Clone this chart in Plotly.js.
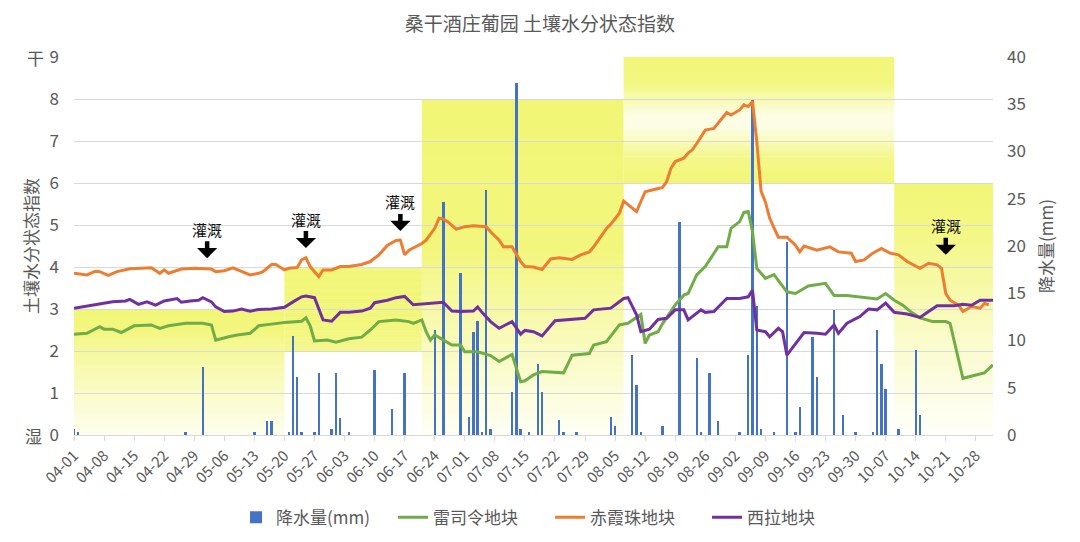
<!DOCTYPE html>
<html><head><meta charset="utf-8">
<script src="https://cdn.plot.ly/plotly-3.0.1.min.js"></script>
<style>html,body{margin:0;padding:0;background:#fff}#chart{width:1080px;height:542px}</style>
</head><body><div id="chart"></div>
<script>
const YEAR = '2021-';
const chartTitle = '桑干酒庄葡园 土壤水分状态指数';
const seriesNames = ['降水量(mm)', '雷司令地块', '赤霞珠地块', '西拉地块'];

// 降水量 (mm)
const rainDates = ['04-01','04-02','04-27','05-01','05-13','05-16','05-17','05-21','05-22','05-23','05-24','05-27','05-28','05-31','06-01','06-02','06-04','06-10','06-14','06-17','06-24','06-26','06-30','07-02','07-03','07-04','07-05','07-06','07-07','07-12','07-13','07-14','07-16','07-18','07-19','07-23','07-24','07-27','08-04','08-05','08-09','08-10','08-11','08-16','08-20','08-24','08-25','08-27','08-29','09-03','09-05','09-06','09-07','09-08','09-11','09-14','09-16','09-17','09-20','09-21','09-25','09-27','09-30','10-04','10-05','10-06','10-07','10-10','10-14','10-15'];
const rainMm = [0.6,0.3,0.3,7.2,0.3,1.5,1.5,0.3,10.5,6.1,0.3,0.3,6.6,0.6,6.6,1.8,0.3,6.9,2.8,6.6,11.1,24.7,17.1,1.9,10.9,12.1,0.3,25.9,0.6,4.6,37.2,0.6,0.3,7.5,4.5,1.6,0.3,0.3,1.9,1.0,8.5,5.3,0.3,1.0,22.5,8.1,0.3,6.6,1.5,0.3,8.5,35.4,13.6,0.6,0.3,20.4,0.3,3.0,10.4,6.1,13.2,2.1,0.3,0.3,11.1,7.5,4.9,0.6,9.0,2.1];

// 雷司令地块
const rieslingDates = ['04-01','04-04','04-07','04-08','04-10','04-12','04-15','04-19','04-21','04-23','04-27','05-01','05-03','05-04','05-07','05-09','05-12','05-14','05-17','05-20','05-24','05-25','05-26','05-27','05-30','06-01','06-04','06-07','06-09','06-11','06-15','06-18','06-19','06-21','06-22','06-23','06-24','06-26','06-28','06-30','07-01','07-04','07-07','07-09','07-12','07-14','07-15','07-17','07-19','07-24','07-26','07-30','07-31','08-03','08-06','08-08','08-11','08-12','08-13','08-15','08-16','08-19','08-21','08-22','08-24','08-26','08-29','08-31','09-01','09-03','09-04','09-05','09-06','09-07','09-09','09-11','09-14','09-16','09-19','09-23','09-25','09-28','10-03','10-05','10-07','10-09','10-11','10-13','10-15','10-18','10-21','10-22','10-23','10-25','10-28','10-30','11-01'];
const rieslingIdx = [2.40,2.42,2.58,2.52,2.52,2.44,2.60,2.62,2.54,2.60,2.66,2.66,2.62,2.26,2.34,2.38,2.42,2.60,2.64,2.68,2.71,2.79,2.60,2.24,2.26,2.21,2.29,2.33,2.50,2.70,2.74,2.70,2.66,2.74,2.46,2.26,2.38,2.26,2.14,2.14,1.98,1.98,1.89,1.75,1.92,1.27,1.29,1.43,1.51,1.48,1.90,1.94,2.14,2.22,2.62,2.66,2.87,2.18,2.38,2.46,2.64,3.10,3.33,3.37,3.81,4.01,4.48,4.48,4.92,5.08,5.30,5.32,4.84,3.97,3.73,3.82,3.41,3.37,3.55,3.61,3.32,3.32,3.27,3.24,3.37,3.21,3.09,2.92,2.79,2.70,2.70,2.66,2.22,1.35,1.43,1.48,1.67];

// 赤霞珠地块
const cabernetDates = ['04-01','04-04','04-06','04-07','04-09','04-11','04-14','04-16','04-19','04-21','04-22','04-23','04-26','04-29','05-03','05-04','05-06','05-08','05-10','05-12','05-14','05-15','05-17','05-18','05-20','05-21','05-23','05-24','05-25','05-26','05-28','05-29','05-31','06-02','06-04','06-07','06-09','06-11','06-13','06-15','06-16','06-17','06-18','06-21','06-22','06-24','06-25','06-26','06-27','06-29','07-01','07-03','07-06','07-07','07-09','07-10','07-12','07-14','07-15','07-17','07-19','07-21','07-23','07-26','07-28','07-30','07-31','08-02','08-03','08-04','08-06','08-07','08-08','08-10','08-11','08-12','08-15','08-16','08-17','08-18','08-19','08-21','08-22','08-23','08-24','08-26','08-28','08-29','08-31','09-01','09-03','09-04','09-05','09-06','09-07','09-08','09-09','09-10','09-12','09-14','09-16','09-17','09-18','09-21','09-24','09-26','09-29','09-30','10-02','10-04','10-06','10-08','10-10','10-12','10-14','10-15','10-17','10-19','10-20','10-21','10-22','10-24','10-25','10-27','10-29','10-30','10-31'];
const cabernetIdx = [3.85,3.81,3.90,3.89,3.80,3.89,3.96,3.97,3.98,3.85,3.93,3.85,3.95,3.97,3.95,3.89,3.91,3.98,3.90,3.81,3.85,3.89,4.06,4.06,3.93,3.97,3.99,4.17,4.22,4.01,3.77,3.93,3.93,4.01,4.01,4.06,4.13,4.29,4.52,4.63,4.64,4.29,4.40,4.56,4.64,4.92,5.16,5.14,5.08,4.90,4.96,4.98,4.96,4.84,4.64,4.48,4.48,4.13,4.01,4.00,3.94,4.19,4.22,4.18,4.29,4.36,4.48,4.76,4.92,5.02,5.28,5.57,5.48,5.32,5.56,5.79,5.87,5.89,6.03,6.35,6.51,6.59,6.71,6.79,6.94,7.26,7.30,7.42,7.68,7.62,7.74,7.86,7.82,7.94,6.98,5.80,5.55,5.16,4.71,4.71,4.52,4.36,4.50,4.40,4.48,4.36,4.33,4.13,4.17,4.33,4.44,4.33,4.29,4.13,4.01,3.97,4.09,4.05,3.97,3.37,3.21,3.09,2.94,3.06,3.02,3.13,3.10];

// 西拉地块
const syrahDates = ['04-01','04-05','04-08','04-10','04-13','04-14','04-16','04-18','04-20','04-22','04-25','04-26','04-28','04-30','05-01','05-03','05-04','05-06','05-08','05-10','05-12','05-14','05-17','05-20','05-22','05-24','05-25','05-27','05-29','05-31','06-02','06-04','06-07','06-09','06-10','06-13','06-15','06-17','06-19','06-22','06-24','06-26','06-28','06-30','07-03','07-04','07-05','07-07','07-09','07-12','07-14','07-15','07-17','07-19','07-22','07-25','07-29','07-31','08-04','08-07','08-08','08-10','08-11','08-13','08-15','08-17','08-19','08-21','08-22','08-25','08-26','08-28','08-31','09-03','09-05','09-06','09-07','09-09','09-10','09-12','09-13','09-14','09-16','09-18','09-21','09-23','09-25','09-26','09-28','10-01','10-03','10-05','10-07','10-09','10-12','10-15','10-17','10-19','10-23','10-25','10-27','10-29','11-01'];
const syrahIdx = [3.02,3.09,3.13,3.17,3.19,3.23,3.11,3.17,3.09,3.19,3.25,3.16,3.19,3.21,3.27,3.17,3.05,2.94,2.95,3.00,2.95,2.99,3.00,3.04,3.17,3.29,3.31,3.27,2.74,2.71,2.92,2.92,2.95,3.02,3.15,3.21,3.27,3.30,3.10,3.12,3.14,3.16,2.95,2.94,2.95,3.05,2.92,2.70,2.54,2.70,2.40,2.49,2.46,2.36,2.72,2.75,2.78,2.98,3.02,3.25,3.27,2.86,2.46,2.52,2.75,2.78,2.98,2.98,2.74,2.98,2.92,2.94,3.25,3.25,3.29,3.45,2.50,2.46,2.34,2.54,2.46,1.90,2.18,2.44,2.42,2.40,2.62,2.42,2.66,2.82,3.00,2.98,3.14,2.92,2.88,2.80,2.94,3.08,3.08,3.11,3.09,3.21,3.21];

// 背景分区 (左轴指数范围)
const bandStart = ['04-01','05-20','06-21','08-07','10-09'];
const bandEnd   = ['05-20','06-21','08-07','10-09','11-01'];
const bandLow   = [0, 2, 0, 6, 0];
const bandHigh  = [3, 4, 8, 9, 6];

// 灌溉标注
const irrigationDates = ['05-02','05-25','06-16','10-21'];
const irrigationIdx = [4.21, 4.45, 4.86, 4.29];
const irrigationText = '灌溉';

const xRange = ['04-01', '11-01'];
const leftRange = [0, 9];
const rightRange = [0, 40];

// ---------- styling ----------
const CJK = '"Noto Sans CJK SC", "Noto Sans", sans-serif';
const GRAY = '#595959';
const colors = {rain: '#4472C4', riesling: '#70AD47', cabernet: '#ED7D31', syrah: '#7030A0'};
const base = [242, 246, 118];
// vertical fade profiles for each band: [fraction from bottom, strength]
const bandFade = [
  [[0, 0.12], [0.5, 0.55], [0.85, 0.95], [1, 1]],
  [[0, 0.85], [0.4, 1], [1, 1]],
  [[0, 0.08], [0.25, 0.45], [0.55, 0.95], [1, 1]],
  [[0, 1], [0.2, 0.85], [0.45, 0.18], [0.55, 0.22], [0.78, 0.9], [1, 1]],
  [[0, 0.04], [0.4, 0.4], [0.8, 0.9], [1, 1]]
];
const d = md => YEAR + md;

function fadeAt(prof, f) {
  for (let i = 1; i < prof.length; i++) {
    if (f <= prof[i][0]) {
      const a = prof[i-1], b = prof[i];
      const t = (f - a[0]) / (b[0] - a[0]);
      return a[1] + t * (b[1] - a[1]);
    }
  }
  return prof[prof.length - 1][1];
}
function mix(s) {
  const c = base.map(v => Math.round(255 - s * (255 - v)));
  return 'rgb(' + c.join(',') + ')';
}

const shapes = [];
const N = 48;
for (let b = 0; b < bandStart.length; b++) {
  const lo = bandLow[b], hi = bandHigh[b];
  for (let i = 0; i < N; i++) {
    const y0 = lo + (hi - lo) * i / N;
    const y1 = lo + (hi - lo) * (i + 1) / N;
    const f = (i + 0.5) / N;
    shapes.push({
      type: 'rect', layer: 'below', xref: 'x', yref: 'y2',
      x0: d(bandStart[b]), x1: d(bandEnd[b]),
      y0: y0, y1: Math.min(hi, y1 + (hi - lo) * 0.004),
      fillcolor: mix(fadeAt(bandFade[b], f)), line: {width: 0}
    });
  }
}

const traces = [
  {type: 'bar', name: seriesNames[0], x: rainDates.map(d), y: rainMm, yaxis: 'y',
   width: 0.55 * 86400000, marker: {color: colors.rain, line: {width: 0}}},
  {type: 'scatter', mode: 'lines', name: seriesNames[1], x: rieslingDates.map(d), y: rieslingIdx, yaxis: 'y2',
   line: {color: colors.riesling, width: 3}},
  {type: 'scatter', mode: 'lines', name: seriesNames[2], x: cabernetDates.map(d), y: cabernetIdx, yaxis: 'y2',
   line: {color: colors.cabernet, width: 3}},
  {type: 'scatter', mode: 'lines', name: seriesNames[3], x: syrahDates.map(d), y: syrahIdx, yaxis: 'y2',
   line: {color: colors.syrah, width: 3}}
];

const annotations = irrigationDates.map((md, i) => ({
  x: d(md), y: irrigationIdx[i], xref: 'x', yref: 'y2',
  text: irrigationText, showarrow: true, ax: 0, ay: -29,
  arrowhead: 1, arrowsize: 0.75, arrowwidth: 4.5, arrowcolor: '#000',
  font: {family: CJK, size: 15, color: '#111'}
}));
annotations.push(
  {xref: 'paper', yref: 'y2', x: -0.042, y: leftRange[1], text: '干', showarrow: false,
   xanchor: 'center', yanchor: 'middle', font: {family: CJK, size: 17, color: GRAY}},
  {xref: 'paper', yref: 'y2', x: -0.044, y: leftRange[0], text: '湿', showarrow: false,
   xanchor: 'center', yanchor: 'middle', font: {family: CJK, size: 17, color: GRAY}}
);

const layout = {
  width: 1080, height: 542,
  paper_bgcolor: '#fff', plot_bgcolor: '#fff',
  margin: {l: 74, r: 87, t: 57, b: 107},
  title: {text: chartTitle, x: 0.5, xanchor: 'center', y: 0.955, yanchor: 'middle',
          font: {family: CJK, size: 19, color: GRAY}},
  showlegend: true,
  legend: {orientation: 'h', x: 0.518, xanchor: 'center', xref: 'paper',
           yref: 'container', y: 0.078, yanchor: 'top',
           entrywidth: 112, entrywidthmode: 'pixels',
           font: {family: CJK, size: 17, color: GRAY}, itemwidth: 30, traceorder: 'normal'},
  hovermode: false,
  bargap: 0,
  xaxis: {type: 'date', range: xRange.map(d), tick0: d('04-01'), dtick: 7 * 86400000,
          tickformat: '%m-%d', tickangle: -45, showgrid: false, zeroline: false, automargin: false,
          showline: true, linecolor: '#D9D9D9', linewidth: 1,
          ticks: 'outside', ticklen: 5, tickcolor: '#D9D9D9',
          tickfont: {family: CJK, size: 15, color: GRAY}},
  yaxis: {range: rightRange, dtick: 5, side: 'right', showgrid: false, zeroline: false, automargin: false,
          showline: false, ticks: '', ticklabelstandoff: 13,
          tickfont: {family: CJK, size: 17, color: GRAY},
          title: {text: '降水量(mm)', standoff: 16, font: {family: CJK, size: 17, color: GRAY}}},
  yaxis2: {range: leftRange, dtick: 1, overlaying: 'y', side: 'left', showgrid: true, automargin: false,
           gridcolor: '#D9D9D9', zeroline: false, showline: false, ticks: '', ticklabelstandoff: 14,
           tickfont: {family: CJK, size: 17, color: GRAY},
           title: {text: '土壤水分状态指数', standoff: 6, font: {family: CJK, size: 17, color: GRAY}}},
  shapes: shapes,
  annotations: annotations
};

Plotly.newPlot('chart', traces, layout, {displayModeBar: false, staticPlot: true});
</script>
</body></html>
